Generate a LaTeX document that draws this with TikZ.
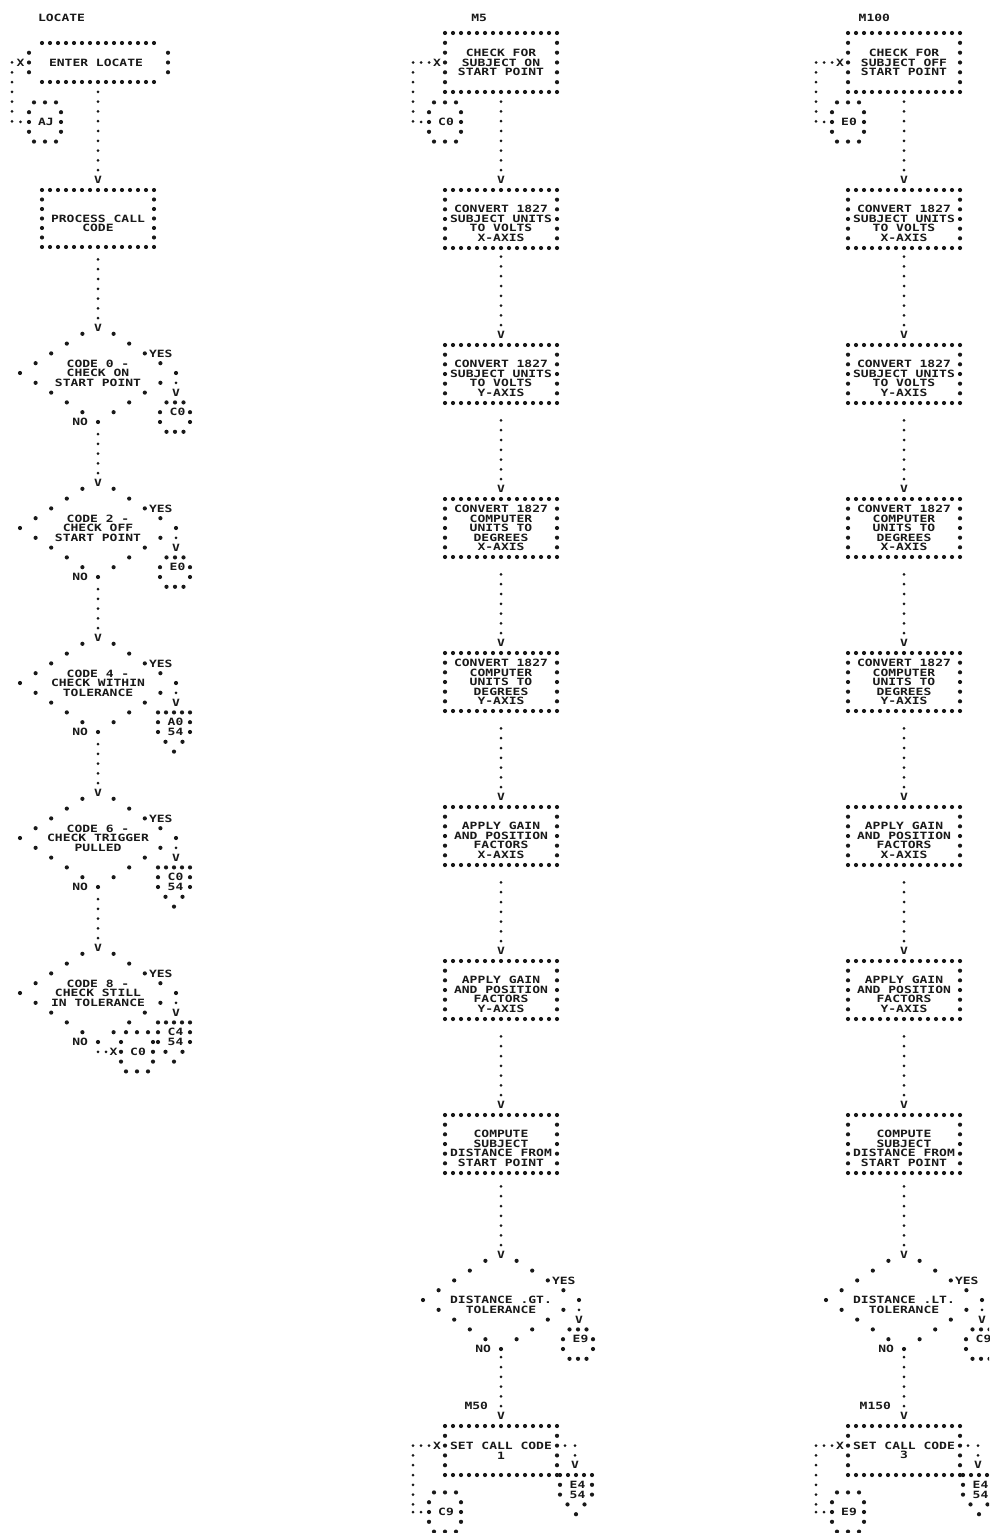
\documentclass[tikz,border=0pt]{standalone}
\usepackage{fontspec}
\newfontfamily\prt{DejaVu Sans Mono}[FakeStretch=1.3]
\usetikzlibrary{calc}
\colorlet{ink}{black!90}
\def\dr{2.1pt}
\def\pr{1.5pt}
\tikzset{
  every node/.style={inner sep=0pt, outer sep=0pt},
  txt/.style={font=\prt\bfseries\fontsize{10}{9.6}\selectfont, text=ink, align=center},
  frame/.style={rectangle, minimum width=112pt, minimum height=58pt},
  conn/.style={draw=ink, line width=3pt, line cap=round, dash pattern=on 0pt off 9.8pt},
}
% dotted outline of a box node: #1 name, #2 horizontal intervals, #3 vertical intervals
\newcommand\dotbox[3]{%
  \foreach \k in {0,...,#2}{
    \fill[ink] ($(#1.north west)!\k/#2!(#1.north east)$) circle[radius=\dr];
    \fill[ink] ($(#1.south west)!\k/#2!(#1.south east)$) circle[radius=\dr];}
  \pgfmathtruncatemacro\vlast{#3-1}
  \foreach \k in {1,...,\vlast}{
    \fill[ink] ($(#1.north west)!\k/#3!(#1.south west)$) circle[radius=\dr];
    \fill[ink] ($(#1.north east)!\k/#3!(#1.south east)$) circle[radius=\dr];}}
% box: name, centre, height, text shift (down), text
\newcommand\pbox[5]{%
  \node[frame, minimum height=#3] (#1) at #2 {};
  \node[txt] (#1t) at ($(#1.center)+(0,#4)$) {#5};}
% decision: name, cx, cy, text shift, text
\newcommand\dia[5]{%
  \coordinate (#1) at (#2,#3);
  \begin{scope}[shift={(#2,#3)}]
    \foreach \j/\o in {-4/15.6,-3/31.2,-2/46.8,-1/62.4,0/78,1/62.4,2/46.8,3/31.2,4/15.6}{
      \fill[ink] (-\o,\j*9.8) circle[radius=\dr];
      \fill[ink] (\o,\j*9.8) circle[radius=\dr];}
    \fill[ink] (0,49) circle[radius=\dr];
    \fill[ink] (78,9.8) circle[radius=\pr];
    \node[txt] (#1t) at (0,#4) {#5};
    \node[txt, anchor=west] (#1y) at (51,-19.6) {YES};
    \node[txt, anchor=east] (#1no) at (-10,49) {NO};
    \node[txt] (#1v) at (78,19.6) {V};
    \coordinate (#1n) at (0,-49);
    \coordinate (#1s) at (0,49);
  \end{scope}}
% 4-row exit connector, origin = top centre
\newcommand\xcon[4]{%
  \begin{scope}[shift={(#2,#3)}]
    \foreach \p in {(-8.5,0),(0,0),(8.5,0),(-15,9.8),(15,9.8),(-15,19.6),(15,19.6),(-8.5,29.4),(0,29.4),(8.5,29.4)}
      \fill[ink] \p circle[radius=\dr];
    \node[txt] (#1) at (2.5,9.8) {#4};
  \end{scope}}
% off-page (pentagon) connector, origin = top centre
\newcommand\pcon[4]{%
  \begin{scope}[shift={(#2,#3)}]
    \foreach \p in {(-16,0),(-8,0),(0,0),(8,0),(16,0),(-16,9.8),(16,9.8),(-16,19.6),(16,19.6),(-8.5,29.4),(8.5,29.4),(0,39.2)}
      \fill[ink] \p circle[radius=\dr];
    \node[txt] (#1) at (1.5,14.7) {#4};
  \end{scope}}
% 5-row entry connector, origin = left side of middle row
\newcommand\econ[4]{%
  \begin{scope}[shift={(#2,#3)}]
    \foreach \p in {(5,-19.6),(16,-19.6),(27,-19.6),(0,-9.8),(32,-9.8),(0,0),(32,0),(0,9.8),(32,9.8),(5,19.6),(16,19.6),(27,19.6)}
      \fill[ink] \p circle[radius=\dr];
    \node[txt] (#1) at (17,0) {#4};
  \end{scope}}
\newcommand\pdot[1]{\fill[ink] #1 circle[radius=\pr];}

\begin{document}
\begin{tikzpicture}[x=1pt,y=-1pt]
\path[use as bounding box, fill=white] (0,0) rectangle (989,1533);
\clip (0,0) rectangle (989,1533);

% ---------- titles ----------
\node[txt, anchor=east] (tloc) at (85,18) {LOCATE};
\node[txt, anchor=east] (tm5) at (487,18) {M5};
\node[txt, anchor=east] (tm100) at (890,18) {M100};

% ================= LEFT COLUMN =================
\node[frame, minimum height=39pt] (enter) at (98,62.5) {};
\node[txt] (entert) at (96,62.5) {ENTER LOCATE};
\foreach \k in {0,...,14}{
  \fill[ink] (42+\k*8,43) circle[radius=\dr];
  \fill[ink] (42+\k*8,82) circle[radius=\dr];}
\foreach \yy in {52.75,62.5,72.25}{
  \fill[ink] (29,\yy) circle[radius=\dr];
  \fill[ink] (168,\yy) circle[radius=\dr];}
\node[txt] (ex0) at (20.5,62.5) {X};
\coordinate (e0) at (12,62.5);
\coordinate (e1) at (12,122);
\draw[conn] (e0) -- (e1);
\pdot{(20.5,122)}
\econ{aj}{29}{122}{AJ}

\pbox{process}{(98,218.5)}{57pt}{5}{PROCESS CALL\\CODE}
\dotbox{process}{14}{6}
\node[txt] (pv) at ($(process.north)+(0,-10)$) {V};
\draw[conn, shorten <=9.8pt, shorten >=8pt] (pv.center) -- (enter.south);

\dia{d1}{98}{373}{0}{CODE 0 -\\CHECK ON\\START POINT}
\dia{d2}{98}{528}{0}{CODE 2 -\\CHECK OFF\\START POINT}
\dia{d3}{98}{683}{0}{CODE 4 -\\CHECK WITHIN\\TOLERANCE}
\dia{d4}{98}{838}{0}{CODE 6 -\\CHECK TRIGGER\\PULLED}
\dia{d5}{98}{993}{0}{CODE 8 -\\CHECK STILL\\IN TOLERANCE}

\node[txt] (d1in) at ($(d1n)+(0,4)$) {V};
\draw[conn, shorten <=9.8pt, shorten >=8pt] (d1in.center) -- (process.south);
\node[txt] (d2in) at ($(d2n)+(0,4)$) {V};
\draw[conn, shorten <=9.8pt, shorten >=8pt] (d2in.center) -- (d1s);
\node[txt] (d3in) at ($(d3n)+(0,4)$) {V};
\draw[conn, shorten <=9.8pt, shorten >=8pt] (d3in.center) -- (d2s);
\node[txt] (d4in) at ($(d4n)+(0,4)$) {V};
\draw[conn, shorten <=9.8pt, shorten >=8pt] (d4in.center) -- (d3s);
\node[txt] (d5in) at ($(d5n)+(0,4)$) {V};
\draw[conn, shorten <=9.8pt, shorten >=8pt] (d5in.center) -- (d4s);

\xcon{c1}{175}{402.4}{C0}
\xcon{c2}{175}{557.4}{E0}
\pcon{c3}{174}{712.4}{A0\\54}
\pcon{c4}{174}{867.4}{C0\\54}
\pcon{c5}{174}{1022.4}{C4\\54}
\pdot{(98,1051.8)}
\pdot{(106,1051.8)}
\node[txt] (ex5) at (113.5,1051.8) {X};
\econ{c6}{121}{1051.8}{C0}

% ================= MIDDLE COLUMN =================
\pbox{m1}{(501,62.5)}{59pt}{0}{CHECK FOR\\SUBJECT ON\\START POINT}
\dotbox{m1}{14}{6}
\pbox{m2}{(501,219)}{58pt}{4.5}{CONVERT 1827\\SUBJECT UNITS\\TO VOLTS\\X-AXIS}
\dotbox{m2}{14}{6}
\pbox{m3}{(501,374)}{58pt}{4.5}{CONVERT 1827\\SUBJECT UNITS\\TO VOLTS\\Y-AXIS}
\dotbox{m3}{14}{6}
\pbox{m4}{(501,528)}{58pt}{0}{CONVERT 1827\\COMPUTER\\UNITS TO\\DEGREES\\X-AXIS}
\dotbox{m4}{14}{6}
\pbox{m5}{(501,682)}{58pt}{0}{CONVERT 1827\\COMPUTER\\UNITS TO\\DEGREES\\Y-AXIS}
\dotbox{m5}{14}{6}
\pbox{m6}{(501,836)}{58pt}{4.5}{APPLY GAIN\\AND POSITION\\FACTORS\\X-AXIS}
\dotbox{m6}{14}{6}
\pbox{m7}{(501,990)}{58pt}{4.5}{APPLY GAIN\\AND POSITION\\FACTORS\\Y-AXIS}
\dotbox{m7}{14}{6}
\pbox{m8}{(501,1144)}{58pt}{4.5}{COMPUTE\\SUBJECT\\DISTANCE FROM\\START POINT}
\dotbox{m8}{14}{6}
\dia{md}{501}{1300}{4.9}{DISTANCE .GT.\\TOLERANCE}
\pbox{m9}{(501,1450.5)}{49pt}{0}{SET CALL CODE\\1}
\dotbox{m9}{14}{5}
\node[txt, anchor=east] (m50) at (488,1406) {M50};

\foreach \a/\b in {m2/m1,m3/m2,m4/m3,m5/m4,m6/m5,m7/m6,m8/m7}{
  \node[txt] (\a v) at ($(\a.north)+(0,-10)$) {V};
  \draw[conn, shorten <=9.8pt, shorten >=8pt] (\a v.center) -- (\b.south);}
\node[txt] (mdin) at ($(mdn)+(0,4)$) {V};
\draw[conn, shorten <=9.8pt, shorten >=8pt] (mdin.center) -- (m8.south);
\node[txt] (m9v) at ($(m9.north)+(0,-10)$) {V};
\draw[conn, shorten <=9.8pt, shorten >=8pt] (m9v.center) -- (mds);

% entry to m1
\node[txt] (mx1) at (437,62.5) {X};
\pdot{(429,62.5)} \pdot{(421,62.5)}
\coordinate (ma0) at (413,62.5);
\coordinate (ma1) at (413,122);
\draw[conn] (ma0) -- (ma1);
\pdot{(421,122)}
\econ{mc0}{429}{122}{C0}
% YES exit
\xcon{me9}{578}{1329.4}{E9}
% entry to m9
\node[txt] (mx9) at (437,1445.6) {X};
\pdot{(429,1445.6)} \pdot{(421,1445.6)}
\coordinate (mb0) at (413,1445.6);
\coordinate (mb1) at (413,1512);
\draw[conn] (mb0) -- (mb1);
\pdot{(413,1512)} \pdot{(421,1512)}
\econ{mc9}{429}{1512}{C9}
% exit of m9
\pdot{(565,1445.6)} \pdot{(575,1445.6)} \pdot{(575,1455.4)}
\node[txt] (m9x) at (575,1465.2) {V};
\pcon{me4}{576}{1475}{E4\\54}

% ================= RIGHT COLUMN =================
\pbox{r1}{(904,62.5)}{59pt}{0}{CHECK FOR\\SUBJECT OFF\\START POINT}
\dotbox{r1}{14}{6}
\pbox{r2}{(904,219)}{58pt}{4.5}{CONVERT 1827\\SUBJECT UNITS\\TO VOLTS\\X-AXIS}
\dotbox{r2}{14}{6}
\pbox{r3}{(904,374)}{58pt}{4.5}{CONVERT 1827\\SUBJECT UNITS\\TO VOLTS\\Y-AXIS}
\dotbox{r3}{14}{6}
\pbox{r4}{(904,528)}{58pt}{0}{CONVERT 1827\\COMPUTER\\UNITS TO\\DEGREES\\X-AXIS}
\dotbox{r4}{14}{6}
\pbox{r5}{(904,682)}{58pt}{0}{CONVERT 1827\\COMPUTER\\UNITS TO\\DEGREES\\Y-AXIS}
\dotbox{r5}{14}{6}
\pbox{r6}{(904,836)}{58pt}{4.5}{APPLY GAIN\\AND POSITION\\FACTORS\\X-AXIS}
\dotbox{r6}{14}{6}
\pbox{r7}{(904,990)}{58pt}{4.5}{APPLY GAIN\\AND POSITION\\FACTORS\\Y-AXIS}
\dotbox{r7}{14}{6}
\pbox{r8}{(904,1144)}{58pt}{4.5}{COMPUTE\\SUBJECT\\DISTANCE FROM\\START POINT}
\dotbox{r8}{14}{6}
\dia{rd}{904}{1300}{4.9}{DISTANCE .LT.\\TOLERANCE}
\pbox{r9}{(904,1450.5)}{49pt}{0}{SET CALL CODE\\3}
\dotbox{r9}{14}{5}
\node[txt, anchor=east] (m150) at (891,1406) {M150};

\foreach \a/\b in {r2/r1,r3/r2,r4/r3,r5/r4,r6/r5,r7/r6,r8/r7}{
  \node[txt] (\a v) at ($(\a.north)+(0,-10)$) {V};
  \draw[conn, shorten <=9.8pt, shorten >=8pt] (\a v.center) -- (\b.south);}
\node[txt] (rdin) at ($(rdn)+(0,4)$) {V};
\draw[conn, shorten <=9.8pt, shorten >=8pt] (rdin.center) -- (r8.south);
\node[txt] (r9v) at ($(r9.north)+(0,-10)$) {V};
\draw[conn, shorten <=9.8pt, shorten >=8pt] (r9v.center) -- (rds);

\node[txt] (rx1) at (840,62.5) {X};
\pdot{(832,62.5)} \pdot{(824,62.5)}
\coordinate (ra0) at (816,62.5);
\coordinate (ra1) at (816,122);
\draw[conn] (ra0) -- (ra1);
\pdot{(824,122)}
\econ{rc0}{832}{122}{E0}
\xcon{rc9}{981}{1329.4}{C9}
\node[txt] (rx9) at (840,1445.6) {X};
\pdot{(832,1445.6)} \pdot{(824,1445.6)}
\coordinate (rb0) at (816,1445.6);
\coordinate (rb1) at (816,1512);
\draw[conn] (rb0) -- (rb1);
\pdot{(816,1512)} \pdot{(824,1512)}
\econ{re9}{832}{1512}{E9}
\pdot{(968,1445.6)} \pdot{(978,1445.6)} \pdot{(978,1455.4)}
\node[txt] (r9x) at (978,1465.2) {V};
\pcon{re4}{979}{1475}{E4\\54}
\end{tikzpicture}
\end{document}
